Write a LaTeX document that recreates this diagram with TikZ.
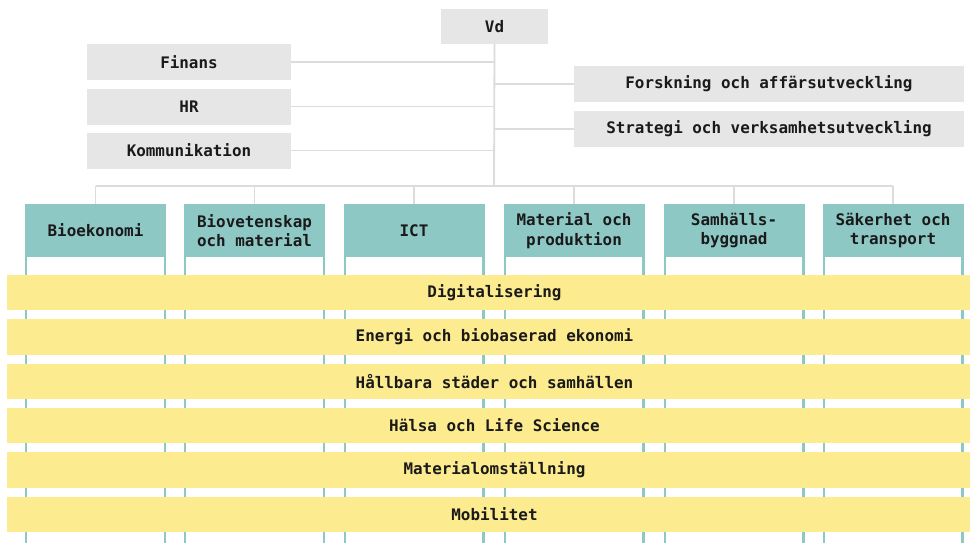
\documentclass[tikz,border=0pt]{standalone}
\usepackage{fontspec}
\setmonofont{DejaVu Sans Mono}
\definecolor{boxgray}{HTML}{E6E6E6}
\definecolor{linegray}{HTML}{DCDCDC}
\definecolor{teal1}{HTML}{8EC8C5}
\definecolor{yel}{HTML}{FDEB8F}
\definecolor{ink}{HTML}{1A1A1A}
\tikzset{
  txt/.style={font=\ttfamily\bfseries\fontsize{15.9}{19.5}\selectfont, text=ink, align=center, inner sep=0pt},
  graybox/.style={txt, fill=boxgray, minimum height=36pt},
  headbox/.style={txt, fill=teal1, minimum width=141pt, minimum height=53pt},
  colbody/.style={draw=teal1, line width=2.4pt, fill=white},
  band/.style={txt, fill=yel, minimum width=975pt, minimum height=35.5pt},
  conn/.style={draw=linegray, line width=1.8pt}
}
\begin{document}
\begin{tikzpicture}[x=1pt,y=-1pt]
\useasboundingbox[fill=white] (0,0) rectangle (970,542);
% top boxes
\node[graybox, minimum width=107pt, minimum height=35pt] (vd) at (494.5,26.5) {Vd};
\node[graybox, minimum width=204pt] (fin) at (189,62) {Finans};
\node[graybox, minimum width=204pt] (hr) at (189,106.5) {HR};
\node[graybox, minimum width=204pt] (kom) at (189,150.5) {Kommunikation};
\node[graybox, minimum width=390pt] (fou) at (769,84) {Forskning och affärsutveckling};
\node[graybox, minimum width=390pt] (strat) at (769,129) {Strategi och verksamhetsutveckling};
\coordinate (bus) at (494,186);
% connectors
\draw[conn] (vd.south) -- (bus);
\draw[conn] (fin.east) -- (fin.east -| bus);
\draw[conn] (hr.east) -- (hr.east -| bus);
\draw[conn] (kom.east) -- (kom.east -| bus);
\draw[conn] (fou.west) -- (fou.west -| bus);
\draw[conn] (strat.west) -- (strat.west -| bus);
% columns
\foreach \n/\cx/\t in {c1/95.5/{Bioekonomi}, c2/254.5/{Biovetenskap\\och material}, c3/414/{ICT}, c4/574/{Material och\\produktion}, c5/734/{Samhälls-\\byggnad}, c6/893/{Säkerhet och\\transport}}{
  \draw[colbody] (\cx-70.5+1.2,230) rectangle (\cx+70.5-1.2,560);
  \node[headbox] (\n) at (\cx,230.5) {\t};
  \draw[conn] (\n.north) -- (\n.north |- bus);
}
\draw[conn] (c1.north |- bus) -- (c6.north |- bus);
% bands
\node[band] (b1) at (494.5,292.5) {Digitalisering};
\node[band] (b2) at (494.5,337) {Energi och biobaserad ekonomi};
\node[band] (b3) at (494.5,381.5) {Hållbara städer och samhällen};
\node[band] (b4) at (494.5,425.5) {Hälsa och Life Science};
\node[band] (b5) at (494.5,470) {Materialomställning};
\node[band] (b6) at (494.5,514.5) {Mobilitet};
\end{tikzpicture}
\end{document}
